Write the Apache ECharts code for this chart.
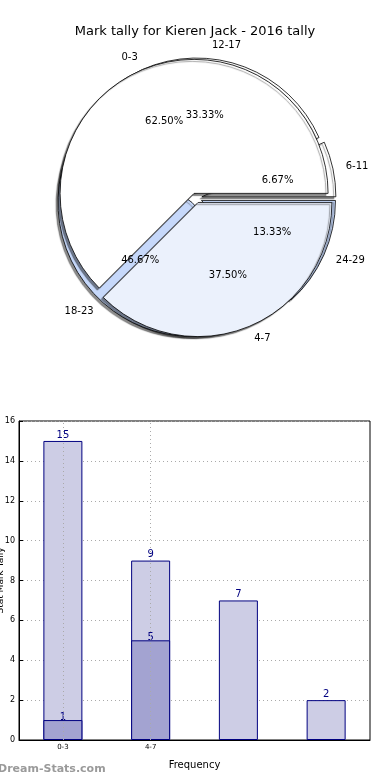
<!DOCTYPE html>
<html>
<head>
<meta charset="utf-8">
<script src="https://cdn.jsdelivr.net/npm/echarts@6/dist/echarts.min.js"></script>
<style>
html,body{margin:0;padding:0;background:#fff;}
#c{width:390px;height:780px;}
</style>
</head>
<body>
<div id="c"></div>
<script>
// ---- data ----
var titleText = 'Mark tally for Kieren Jack - 2016 tally';
var pieOuterNames = ['0-3', '4-7'];
var pieOuterValues = [15, 9];
var pieInnerNames = ['6-11', '12-17', '18-23', '24-29'];
var pieInnerValues = [1, 5, 7, 2];
var barCategories = ['0-3', '4-7', '', ' '];
var barLightValues = [15, 9, 7, 2];
var barDarkValues = [1, 5, null, null];
var yTicksMax = 16;
var yTickStep = 2;
var xAxisTitle = 'Frequency';
var yAxisTitle = 'Stat Mark Tally';
var watermark = 'Dream-Stats.com';

// ---- styles ----
var FONT = 'DejaVu Sans';
var pieCenter = [196, 198];
var R = 134;
var outerColors = ['#ffffff', '#ebf1fc'];
var innerColors = ['#ffffff', '#ffffff', '#c6d8fa', '#c6d8fa'];

function sum(a){return a.reduce(function(s,v){return s+v;},0);}
function mkData(names, values, colors){
  return names.map(function(n,i){
    return {name:n, value:values[i], selected:true, itemStyle:{color:colors[i]}};
  });
}
function pctData(names, values){
  var t = sum(values);
  return names.map(function(n,i){
    return {name:n, value:values[i], pct:(values[i]/t*100).toFixed(2)+'%'};
  });
}
var shadow = {shadowBlur:1, shadowColor:'rgba(0,0,0,0.45)', shadowOffsetX:-2, shadowOffsetY:2};

function shapeSeries(names, values, colors, offset){
  return {
    type:'pie', center:pieCenter, radius:[0, R], startAngle:0, clockwise:false,
    selectedMode:'multiple', selectedOffset:offset, animation:false, silent:true,
    avoidLabelOverlap:false,
    itemStyle:Object.assign({borderColor:'#000', borderWidth:0.8}, shadow),
    label:{show:true, position:'outside', color:'#000', fontFamily:FONT, fontSize:10, distanceToLabelLine:0},
    labelLine:{show:false, length:13, length2:0},
    emphasis:{disabled:true},
    data:mkData(names, values, colors)
  };
}
function pctSeries(names, values){
  return {
    type:'pie', center:pieCenter, radius:[R*0.2, R], startAngle:0, clockwise:false,
    animation:false, silent:true, avoidLabelOverlap:false, z:10,
    itemStyle:{color:'rgba(0,0,0,0)', borderWidth:0},
    label:{show:true, position:'inside', color:'#000', fontFamily:FONT, fontSize:10,
      formatter:function(p){return p.data.pct;}},
    labelLine:{show:false},
    emphasis:{disabled:true},
    data:pctData(names, values)
  };
}

var chart = echarts.init(document.getElementById('c'), null, {renderer:'canvas'});
var option = {
  backgroundColor:'#fff',
  animation:false,
  title:{text:titleText, left:'center', top:20,
    textStyle:{fontFamily:FONT, fontSize:13, fontWeight:'normal', color:'#000'}},
  graphic:[{type:'text', left:-2, top:764,
    style:{text:watermark, fill:'#9a9a9a', font:'bold 11px "DejaVu Sans"'}}],
  grid:{left:19, right:20, top:421, bottom:40, show:true, borderColor:'#000', borderWidth:1,
    containLabel:false, outerBoundsMode:'none'},
  xAxis:{type:'category', data:barCategories,
    axisLine:{lineStyle:{color:'#000'}},
    axisTick:{show:false},
    axisLabel:{color:'#000', fontFamily:FONT, fontSize:7, margin:4},
    splitLine:{show:false},
    name:xAxisTitle, nameLocation:'middle', nameGap:20, nameMoveOverlap:false,
    nameTextStyle:{color:'#000', fontFamily:FONT, fontSize:10}},
  yAxis:{type:'value', min:0, max:yTicksMax, interval:yTickStep,
    axisLine:{show:true, lineStyle:{color:'#000'}},
    axisTick:{show:true, inside:true, length:4, lineStyle:{color:'#000'}},
    axisLabel:{color:'#000', fontFamily:FONT, fontSize:8, margin:4},
    splitLine:{show:true, lineStyle:{color:'#aaaaaa', type:[1,3], width:1}},
    name:yAxisTitle, nameLocation:'middle', nameGap:14, nameMoveOverlap:false,
    nameTextStyle:{color:'#000', fontFamily:FONT, fontSize:9}},
  series:[
    shapeSeries(pieInnerNames, pieInnerValues, innerColors, 6),
    shapeSeries(pieOuterNames, pieOuterValues, outerColors, 5),
    pctSeries(pieInnerNames, pieInnerValues),
    pctSeries(pieOuterNames, pieOuterValues),
    {type:'bar', data:barLightValues, barWidth:39, barGap:'-100%', z:2,
      itemStyle:{color:'#cdcde5', borderColor:'#000080', borderWidth:1},
      label:{show:true, position:'top', distance:1, color:'#000080', fontFamily:FONT, fontSize:10},
      markLine:{silent:true, symbol:'none', label:{show:false},
        lineStyle:{color:'#aaaaaa', type:[1,3], width:1},
        data:[{xAxis:barCategories[0]}, {xAxis:barCategories[1]}]}},
    {type:'bar', data:barDarkValues, barWidth:39, barGap:'-100%', z:3,
      itemStyle:{color:'#a3a3d1', borderColor:'#000080', borderWidth:1},
      label:{show:true, position:'top', distance:-2, color:'#000080', fontFamily:FONT, fontSize:10}}
  ]
};
chart.setOption(option);
</script>
</body>
</html>
